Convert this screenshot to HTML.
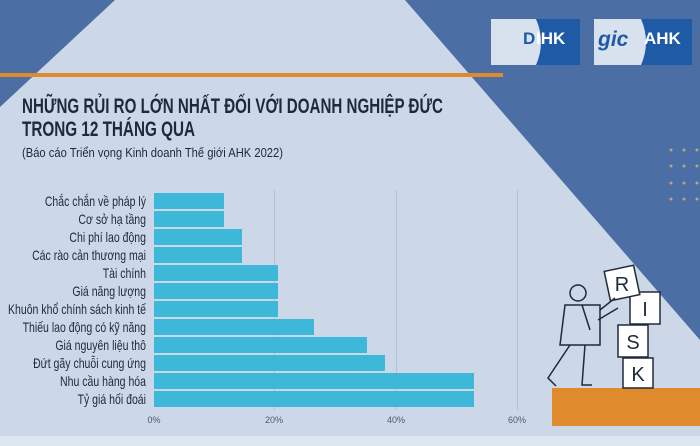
<!DOCTYPE html>
<html><head><meta charset="utf-8"><style>
html,body{margin:0;padding:0;width:700px;height:446px;overflow:hidden;background:#ccd8e8}
svg{display:block}
text{font-family:"Liberation Sans",sans-serif}
</style></head><body>
<svg width="700" height="446" viewBox="0 0 700 446">
<rect width="700" height="446" fill="#4b6fa5"/>
<polygon points="115,0 405,0 700,340 700,446 0,446 0,107" fill="#ccd8e8"/>
<rect x="0" y="436" width="700" height="10" fill="#dde5ef"/>
<rect x="0" y="73" width="503" height="4" fill="#e08a2e"/>
<!-- logos -->
<rect x="491" y="19" width="89" height="46" fill="#1f5aa6"/>
<path d="M491 19 H536 Q546 42 536 65 H491 Z" fill="#d8e2ef"/>
<text x="523" y="44" font-size="17" font-weight="bold" fill="#1f5aa6">D</text>
<text x="536" y="44" font-size="17" font-weight="bold" fill="#fff">IHK</text>
<rect x="594" y="19" width="98" height="46" fill="#1f5aa6"/>
<path d="M594 19 H641 Q651 42 641 65 H594 Z" fill="#d8e2ef"/>
<text x="598" y="46" font-size="21" font-style="italic" font-weight="bold" fill="#1f5aa6">gic</text>
<text x="644" y="44" font-size="17" font-weight="bold" fill="#fff">AHK</text>
<!-- title -->
<text x="22" y="113" font-size="21" font-weight="bold" fill="#1e2a3a" textLength="421" lengthAdjust="spacingAndGlyphs">NHỮNG RỦI RO LỚN NHẤT ĐỐI VỚI DOANH NGHIỆP ĐỨC</text>
<text x="22" y="136" font-size="21" font-weight="bold" fill="#1e2a3a" textLength="173" lengthAdjust="spacingAndGlyphs">TRONG 12 THÁNG QUA</text>
<text x="22" y="157" font-size="12.5" fill="#1e2a3a" textLength="261" lengthAdjust="spacingAndGlyphs">(Báo cáo Triển vọng Kinh doanh Thế giới AHK 2022)</text>
<!-- grid -->
<g stroke="#b5c2d3" stroke-width="1">
<line x1="274.5" y1="190" x2="274.5" y2="410"/>
<line x1="396.5" y1="190" x2="396.5" y2="410"/>
<line x1="517.5" y1="190" x2="517.5" y2="410"/>
</g>
<g fill="#3db8d9">
<rect x="154" y="193" width="70" height="16"/>
<rect x="154" y="211" width="70" height="16"/>
<rect x="154" y="229" width="88" height="16"/>
<rect x="154" y="247" width="88" height="16"/>
<rect x="154" y="265" width="124" height="16"/>
<rect x="154" y="283" width="124" height="16"/>
<rect x="154" y="301" width="124" height="16"/>
<rect x="154" y="319" width="160" height="16"/>
<rect x="154" y="337" width="213" height="16"/>
<rect x="154" y="355" width="231" height="16"/>
<rect x="154" y="373" width="320" height="16"/>
<rect x="154" y="391" width="320" height="16"/>
</g>
<g transform="translate(146,0) scale(0.78,1)" font-size="13.5" fill="#1e2a3a" text-anchor="end">
<text x="0" y="206">Chắc chắn về pháp lý</text>
<text x="0" y="224">Cơ sở hạ tầng</text>
<text x="0" y="242">Chi phí lao động</text>
<text x="0" y="260">Các rào cản thương mại</text>
<text x="0" y="278">Tài chính</text>
<text x="0" y="296">Giá năng lượng</text>
<text x="0" y="314">Khuôn khổ chính sách kinh tế</text>
<text x="0" y="332">Thiếu lao động có kỹ năng</text>
<text x="0" y="350">Giá nguyên liệu thô</text>
<text x="0" y="368">Đứt gãy chuỗi cung ứng</text>
<text x="0" y="386">Nhu cầu hàng hóa</text>
<text x="0" y="404">Tỷ giá hối đoái</text>
</g>
<g font-size="9" fill="#4a5a70" text-anchor="middle">
<text x="154" y="423">0%</text>
<text x="274" y="423">20%</text>
<text x="396" y="423">40%</text>
<text x="517" y="423">60%</text>
</g>
<!-- dots -->
<g fill="#b8a47a"><circle cx="671" cy="150" r="1.5"/><circle cx="684" cy="150" r="1.5"/><circle cx="697" cy="150" r="1.5"/><circle cx="671" cy="166" r="1.5"/><circle cx="684" cy="166" r="1.5"/><circle cx="697" cy="166" r="1.5"/><circle cx="671" cy="183" r="1.5"/><circle cx="684" cy="183" r="1.5"/><circle cx="697" cy="183" r="1.5"/><circle cx="671" cy="199" r="1.5"/><circle cx="684" cy="199" r="1.5"/><circle cx="697" cy="199" r="1.5"/></g>
<!-- illustration -->
<rect x="552" y="388" width="148" height="38" fill="#e08a2e"/>
<g fill="#fff" stroke="#1e2a3a" stroke-width="1.5">
<rect x="623" y="358" width="30" height="30"/>
<rect x="618" y="325" width="30" height="32"/>
<rect x="630" y="292" width="30" height="32"/>
<rect x="607" y="268" width="30" height="30" transform="rotate(-12 622 283)"/>
</g>
<g font-size="20" fill="#1e2a3a" text-anchor="middle">
<text x="638" y="381">K</text><text x="633" y="349">S</text><text x="645" y="316">I</text><text x="622" y="291">R</text>
</g>
<g fill="none" stroke="#1e2a3a" stroke-width="1.5">
<circle cx="578" cy="293" r="8"/>
<path d="M565 305 L600 305 L600 345 L560 345 Z"/>
<path d="M570 345 L548 378 L556 386 M585 345 L582 385 L592 385"/>
<path d="M600 310 L615 298 M598 320 L618 308"/>
<path d="M582 305 L590 330"/>
</g>
</svg>
</body></html>
